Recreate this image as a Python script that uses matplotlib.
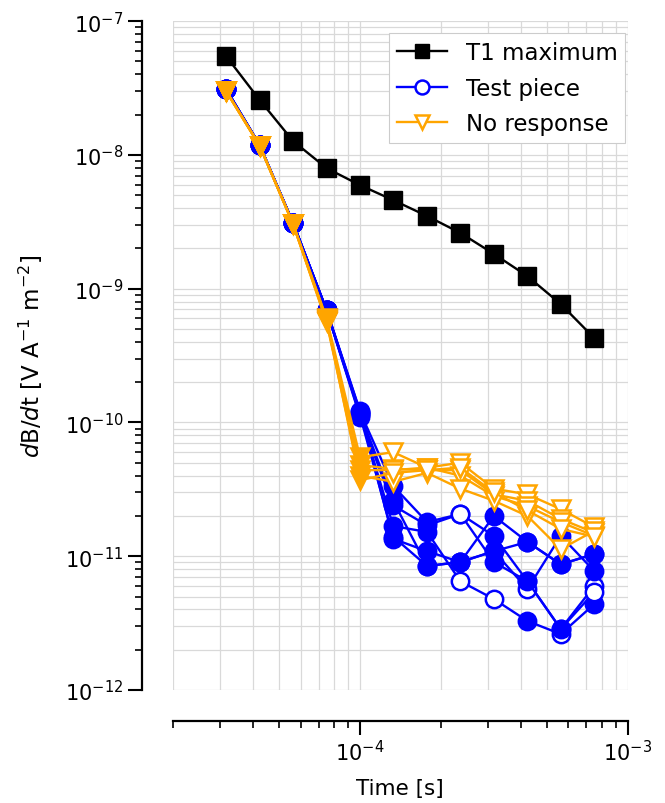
import matplotlib
matplotlib.use("Agg")
import matplotlib.pyplot as plt
from matplotlib.lines import Line2D
from matplotlib.ticker import NullFormatter, LogLocator
import numpy as np

# ---------------- data ----------------
time_s = [3.16e-5, 4.22e-5, 5.62e-5, 7.5e-5, 1.0e-4, 1.33e-4, 1.78e-4,
          2.37e-4, 3.16e-4, 4.22e-4, 5.62e-4, 7.5e-4]

t1_maximum = [5.47e-8, 2.57e-8, 1.27e-8, 7.96e-9, 5.94e-9, 4.59e-9, 3.49e-9,
              2.61e-9, 1.82e-9, 1.24e-9, 7.67e-10, 4.27e-10]

test_piece = [
    [3.10e-8, 1.18e-8, 3.10e-9, 6.9e-10, 1.20e-10, 3.35e-11, 1.80e-11, 2.07e-11, 1.42e-11, 6.5e-12, 2.86e-12, 5.99e-12],
    [3.10e-8, 1.18e-8, 3.10e-9, 6.9e-10, 1.17e-10, 2.59e-11, 8.45e-12, 9.05e-12, 2.00e-11, 1.28e-11, 8.7e-12, 1.04e-11],
    [3.10e-8, 1.18e-8, 3.10e-9, 6.9e-10, 1.15e-10, 1.68e-11, 1.52e-11, 6.5e-12, 4.79e-12, 3.28e-12, 2.62e-12, 4.39e-12],
    [3.10e-8, 1.18e-8, 3.10e-9, 6.9e-10, 1.22e-10, 1.35e-11, 1.09e-11, 9.05e-12, 1.09e-11, 5.69e-12, 1.42e-11, 7.75e-12],
    [3.10e-8, 1.18e-8, 3.10e-9, 6.9e-10, 1.10e-10, 2.40e-11, 1.70e-11, 2.07e-11, 9.05e-12, 6.5e-12, 2.86e-12, 5.40e-12],
    [3.10e-8, 1.18e-8, 3.10e-9, 6.9e-10, 1.13e-10, 1.40e-11, 8.45e-12, 9.05e-12, 1.09e-11, 1.28e-11, 8.7e-12, 1.04e-11],
]
test_piece_filled = [
    [1, 1, 1, 1, 1, 1, 1, 0, 1, 1, 1, 0],
    [1, 1, 1, 1, 1, 1, 1, 1, 1, 1, 1, 1],
    [1, 1, 1, 1, 1, 1, 1, 0, 0, 1, 0, 1],
    [1, 1, 1, 1, 1, 1, 1, 1, 1, 0, 1, 1],
    [1, 1, 1, 1, 1, 1, 1, 0, 1, 1, 1, 0],
    [1, 1, 1, 1, 1, 1, 1, 1, 1, 1, 1, 1],
]

no_response = [
    [3.00e-8, 1.17e-8, 3.05e-9, 6.0e-10, 5.5e-11, 6.0e-11, 4.6e-11, 5.0e-11, 3.2e-11, 2.9e-11, 2.25e-11, 1.65e-11],
    [3.00e-8, 1.17e-8, 3.05e-9, 5.8e-10, 4.8e-11, 4.5e-11, 4.4e-11, 4.4e-11, 2.9e-11, 2.6e-11, 1.90e-11, 1.50e-11],
    [3.00e-8, 1.17e-8, 3.05e-9, 5.7e-10, 4.4e-11, 4.4e-11, 4.6e-11, 4.0e-11, 2.82e-11, 2.37e-11, 1.80e-11, 1.42e-11],
    [3.00e-8, 1.17e-8, 3.05e-9, 5.6e-10, 4.0e-11, 3.6e-11, 4.2e-11, 3.2e-11, 2.6e-11, 2.0e-11, 1.13e-11, 1.55e-11],
    [3.00e-8, 1.17e-8, 3.05e-9, 5.9e-10, 3.7e-11, 4.2e-11, 4.4e-11, 4.6e-11, 3.0e-11, 2.2e-11, 1.60e-11, 1.40e-11],
]
no_response_filled = [1, 1, 1, 1, 1, 0, 0, 0, 0, 0, 0, 0]

legend_labels = ["T1 maximum", "Test piece", "No response"]
x_major_ticks = [1e-4, 1e-3]
y_major_ticks = [1e-12, 1e-11, 1e-10, 1e-9, 1e-8, 1e-7]

# ---------------- plot ----------------
plt.rcParams['font.family'] = ['DejaVu Sans']
plt.rcParams['font.size'] = 15

fig = plt.figure(figsize=(6.65, 8.04), dpi=100)
ax = fig.add_axes([0.260, 0.1405, 0.684, 0.832])

BLUE = '#0000ff'
ORANGE = '#ffa500'
ms = 12.5
mew = 1.8
lw = 1.7
t = np.array(time_s)

ax.plot(t, t1_maximum, '-s', color='black', ms=ms, lw=lw, zorder=5)

for vals, fl in zip(test_piece, test_piece_filled):
    v = np.array(vals)
    f = np.array(fl, dtype=bool)
    ax.plot(t, v, '-', color=BLUE, lw=lw, zorder=3)
    ax.plot(t[f], v[f], 'o', color=BLUE, mfc=BLUE, ms=ms, mew=mew, zorder=3)
    ax.plot(t[~f], v[~f], 'o', color=BLUE, mfc='white', ms=ms, mew=mew, zorder=3)

fo = np.array(no_response_filled, dtype=bool)
for vals in no_response:
    v = np.array(vals)
    ax.plot(t, v, '-', color=ORANGE, lw=lw, zorder=4)
    ax.plot(t[fo], v[fo], 'v', color=ORANGE, mfc=ORANGE, ms=ms, mew=mew, zorder=4)
    ax.plot(t[~fo], v[~fo], 'v', color=ORANGE, mfc='white', ms=ms, mew=mew, zorder=4)

ax.set_xscale('log')
ax.set_yscale('log')
ax.set_xlim(2e-5, 1e-3)
ax.set_ylim(1e-12, 1e-7)
ax.set_xticks(x_major_ticks)
ax.set_yticks(y_major_ticks)
ax.xaxis.set_minor_locator(LogLocator(base=10, subs=np.arange(2, 10)))
ax.yaxis.set_minor_locator(LogLocator(base=10, subs=np.arange(2, 10)))
ax.yaxis.set_minor_formatter(NullFormatter())
ax.xaxis.set_minor_formatter(NullFormatter())

ax.grid(True, which='both', color='#d9d9d9', lw=0.9, zorder=0)
ax.set_axisbelow(True)

for s in ['top', 'right']:
    ax.spines[s].set_visible(False)
ax.spines['left'].set_position(('outward', 22))
ax.spines['bottom'].set_position(('outward', 22))
ax.spines['left'].set_linewidth(1.6)
ax.spines['bottom'].set_linewidth(1.6)
ax.tick_params(which='major', length=10, width=1.5, labelsize=15)
ax.tick_params(which='minor', length=5, width=1.2)

ax.set_xlabel('Time [s]', fontsize=15.5, labelpad=10)
ax.set_ylabel(r'$d$B/$d$t [V A$^{-1}$ m$^{-2}$]', fontsize=16.5, labelpad=14)

handles = [
    Line2D([], [], color='black', marker='s', ms=ms, lw=lw),
    Line2D([], [], color=BLUE, marker='o', mfc='white', ms=ms, mew=mew, lw=lw),
    Line2D([], [], color=ORANGE, marker='v', mfc='white', ms=ms, mew=mew, lw=lw),
]
leg = ax.legend(handles, legend_labels, loc='upper right', fontsize=16.5,
                bbox_to_anchor=(0.995, 0.982), borderaxespad=0.0,
                frameon=True, fancybox=False, framealpha=1.0,
                edgecolor='#cccccc', handlelength=2.2, markerscale=0.8,
                labelspacing=0.55, borderpad=0.35)
leg.get_frame().set_linewidth(0.8)

fig.savefig('out.png', dpi=100)
